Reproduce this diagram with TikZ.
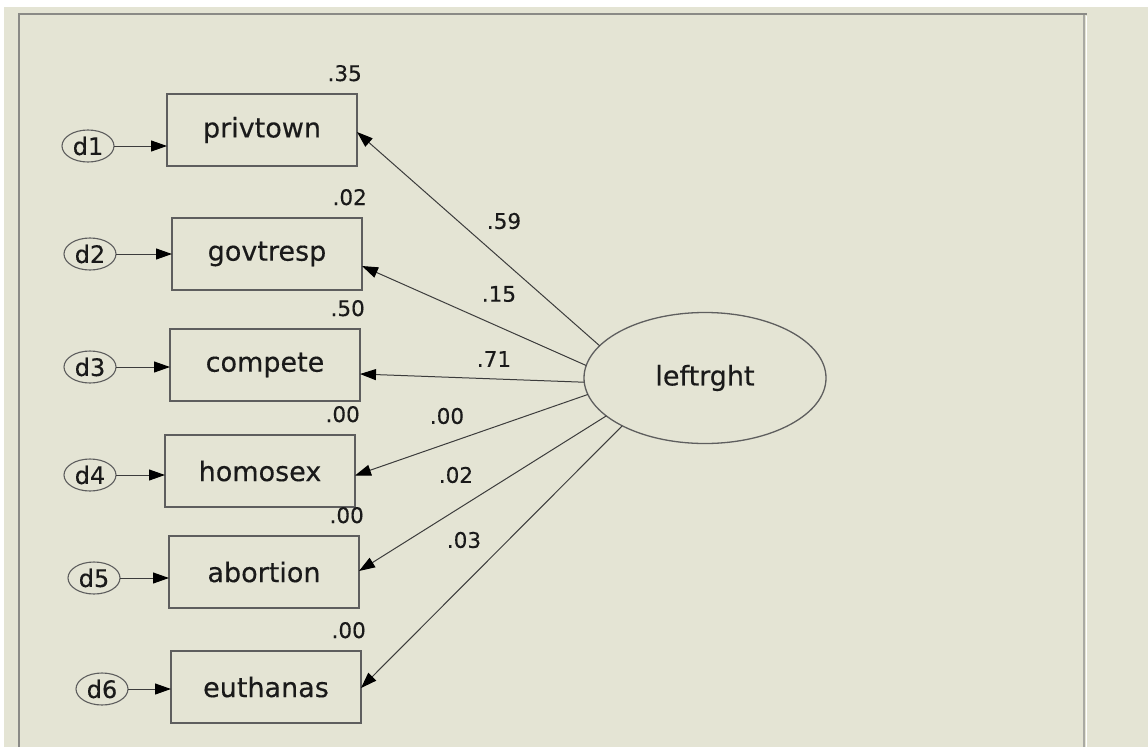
\documentclass[tikz,border=0pt]{standalone}
\usepackage{fontspec}
\setmainfont{DejaVu Sans}[FakeBold=0.35]
\usetikzlibrary{arrows.meta,shapes.geometric}
\definecolor{paper}{HTML}{E4E4D4}
\definecolor{framegray}{HTML}{8A8A86}
\definecolor{frameside}{HTML}{A9A9A2}
\definecolor{boxline}{HTML}{5E5E5E}
\definecolor{edgeline}{HTML}{3C3C3C}
\definecolor{ink}{HTML}{1A1A1A}
\begin{document}
\begin{tikzpicture}[x=1pt,y=-1pt,
  obs/.style={rectangle, draw=boxline, line width=1.8pt, fill=paper,
    minimum width=190pt, minimum height=72pt, inner sep=0pt, outer sep=0pt,
    text=ink, font=\fontsize{27}{30}\selectfont},
  err/.style={ellipse, draw=boxline, line width=1.1pt,
    minimum width=52pt, minimum height=32pt, inner sep=0pt, outer sep=0pt,
    text=ink, font=\fontsize{24}{27}\selectfont},
  lat/.style={ellipse, draw=boxline, line width=1.3pt,
    minimum width=242pt, minimum height=131pt, inner sep=0pt, outer sep=0pt,
    text=ink, font=\fontsize{27}{30}\selectfont},
  num/.style={inner sep=0pt, text=ink, font=\fontsize{21.5}{24}\selectfont},
  arr/.style={draw=edgeline, line width=1pt,
    -{Triangle[length=16pt,width=11pt,color=black]}}
]
\useasboundingbox (0,0) rectangle (1148,747);
% window background and panel frame
\fill[white] (0,0) rectangle (1148,747);
\fill[paper] (4,7) rectangle (1148,747);
\draw[framegray, line width=1.3pt] (19,747) -- (19,14) -- (1087,14);
\draw[frameside, line width=2pt] (1084,15) -- (1084,747);
\draw[white, line width=1pt] (1086.5,16) -- (1086.5,747);

% observed variables
\node[obs] (b1) at (262,130) {privtown};
\node[obs] (b2) at (267,254) {govtresp};
\node[obs] (b3) at (265,365) {compete};
\node[obs] (b4) at (260,471) {homosex};
\node[obs] (b5) at (264,572) {abortion};
\node[obs] (b6) at (266,687) {euthanas};

% squared multiple correlations
\node[num, anchor=base east] at ([xshift=5pt,yshift=13pt]b1.north east) {.35};
\node[num, anchor=base east] at ([xshift=5pt,yshift=13pt]b2.north east) {.02};
\node[num, anchor=base east] at ([xshift=5pt,yshift=13pt]b3.north east) {.50};
\node[num, anchor=base east] at ([xshift=5pt,yshift=13pt]b4.north east) {.00};
\node[num, anchor=base east] at ([xshift=5pt,yshift=13pt]b5.north east) {.00};
\node[num, anchor=base east] at ([xshift=5pt,yshift=13pt]b6.north east) {.00};

% error terms
\node[err] (d1) at (88,146) {d1};
\node[err] (d2) at (90,254) {d2};
\node[err] (d3) at (90,367) {d3};
\node[err] (d4) at (90,475) {d4};
\node[err] (d5) at (94,578) {d5};
\node[err] (d6) at (102,689) {d6};

\foreach \i in {1,...,6}
  \draw[arr] (d\i.east) -- (d\i.east -| b\i.west);

% latent factor
\node[lat] (f) at (705,378) {leftrght};

% factor loadings
\draw[arr] (f.163.4) -- ([yshift=-2pt]b1.east);
\draw[arr] (f.174.2) -- ([yshift=-12pt]b2.east);
\draw[arr] (f.182.4) -- ([yshift=-9pt]b3.east);
\draw[arr] (f.188.7) -- ([yshift=-4.5pt]b4.east);
\draw[arr] (f.201.3) -- ([yshift=1pt]b5.east);
\draw[arr] (f.210.6) -- ([yshift=-1pt]b6.east);

\node[num] (l1) at (504,221) {.59};
\node[num] (l2) at (499,294) {.15};
\node[num] (l3) at (494,359) {.71};
\node[num] (l4) at (447,416) {.00};
\node[num] (l5) at (456,475) {.02};
\node[num] (l6) at (464,540) {.03};
\end{tikzpicture}
\end{document}
